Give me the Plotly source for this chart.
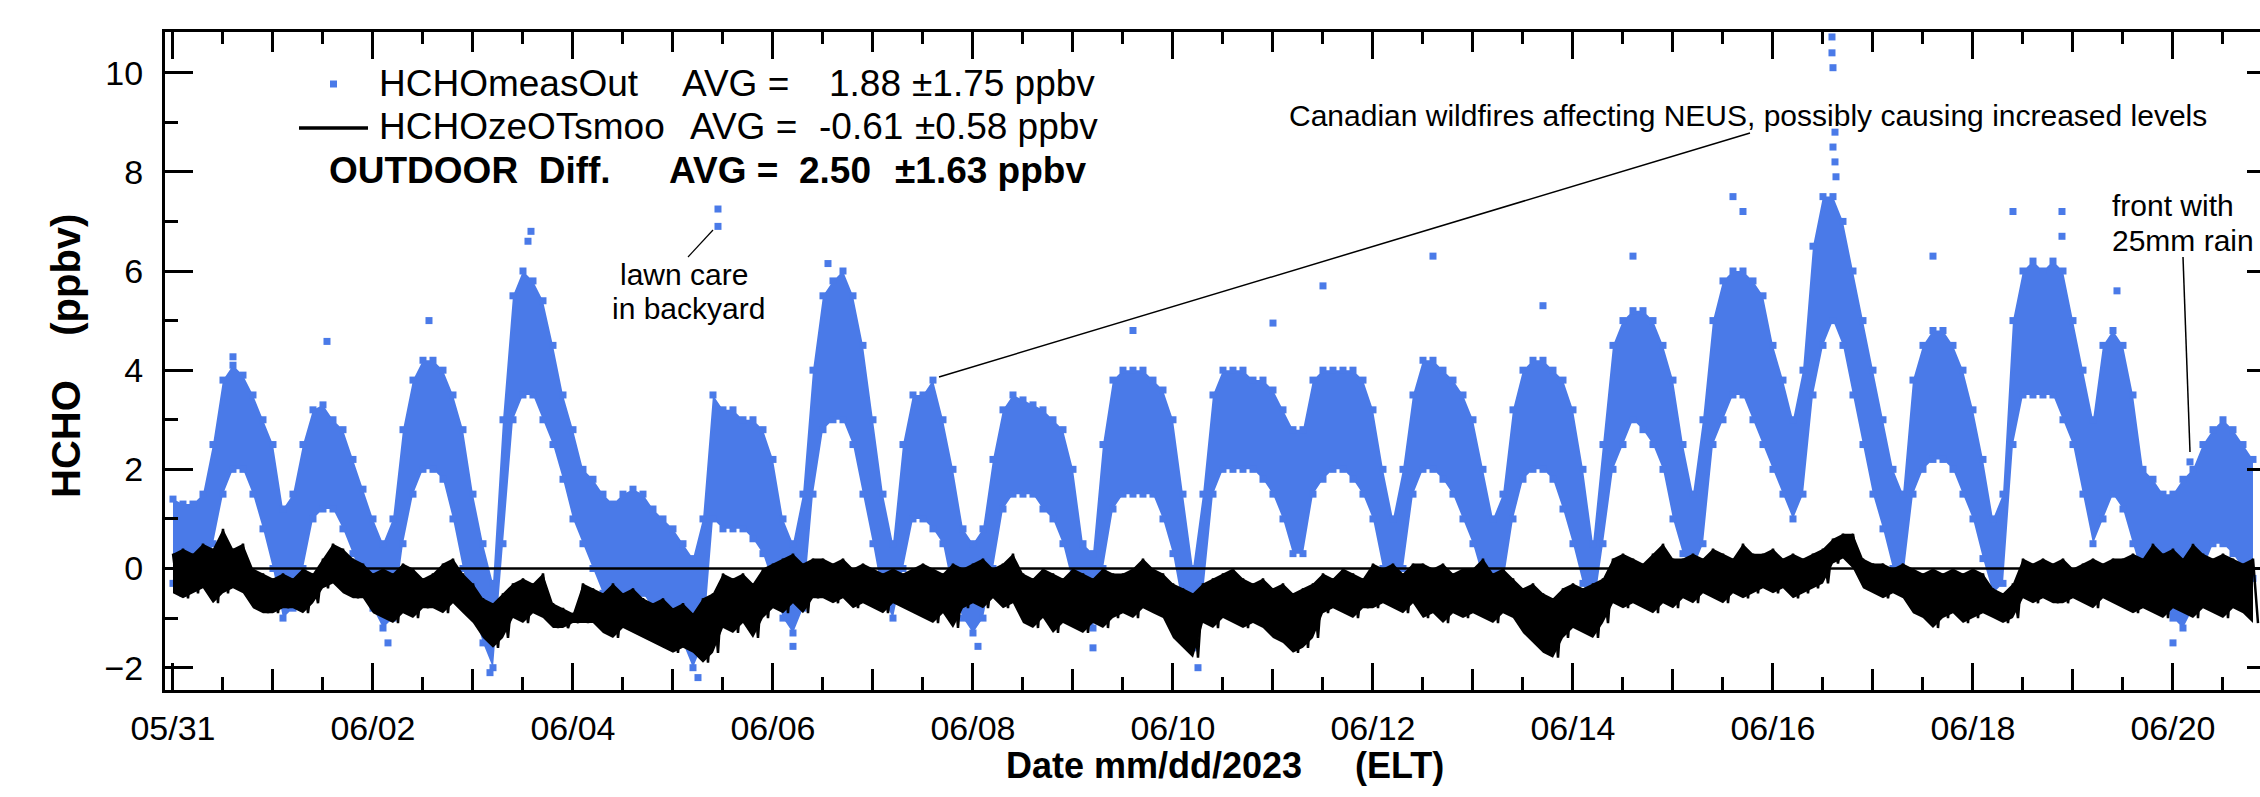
import numpy as np
import pandas as pd
import plotly.graph_objects as go

# ---------------- data ----------------
start = pd.Timestamp("2023-05-31 00:00")
step_days = 0.1  # readings every 0.1 day (2.4 h)

# HCHOmeasOut: lower / upper edge of the scatter band, ppbv
blue_lo = [-0.3,-0.5,-0.4,-0.2,0.5,1.5,2.0,2.0,1.5,0.8,
           0.0,-1.0,-0.8,0.0,1.0,1.2,1.2,0.8,0.3,-0.3,
           -0.8,-1.2,-1.0,0.5,1.5,2.0,2.0,1.8,1.0,0.0,
           -0.8,-1.5,-2.0,0.5,3.0,3.5,3.5,3.0,2.5,1.8,
           1.0,0.5,0.0,-0.5,-0.8,-0.6,-0.6,-0.5,-0.8,-1.0,
           -1.2,-1.5,-2.0,-1.5,1.0,0.8,0.8,0.8,0.6,0.3,
           -0.3,-1.0,-1.3,-0.8,1.5,2.8,3.0,3.0,2.5,1.5,
           0.5,-0.6,-1.0,0.0,1.0,1.0,0.8,0.5,-0.5,-1.0,
           -1.3,-1.0,0.0,1.2,1.5,1.5,1.5,1.2,1.0,0.5,
           -0.3,-1.0,-1.2,0.0,1.2,1.5,1.5,1.5,1.5,1.0,
           0.3,-0.8,-1.6,-0.5,1.5,2.0,2.0,2.0,2.0,1.8,
           1.5,1.0,0.3,0.3,1.5,1.8,2.0,2.0,1.8,1.5,
           1.0,0.0,-0.4,0.0,1.5,2.0,2.0,1.8,1.5,1.0,
           0.5,-0.2,-0.5,-0.3,1.0,1.8,2.0,2.0,1.8,1.2,
           0.5,-0.3,-0.9,0.5,2.0,2.5,3.0,2.8,2.5,2.0,
           1.0,0.3,0.0,0.5,2.5,3.0,3.5,3.5,3.0,2.5,
           2.0,1.5,1.0,1.5,3.5,4.5,5.0,4.5,3.5,2.5,
           1.5,0.8,0.0,-0.2,1.5,2.0,2.2,2.2,2.0,1.5,
           1.0,0.2,-0.5,-0.3,2.5,3.5,3.5,3.5,3.5,3.0,
           2.5,1.5,0.5,1.0,1.5,1.2,0.5,-0.2,-0.5,-0.8,
           -1.0,-1.2,-0.8,0.0,0.5,0.5,0.3,0.0,-0.2]
blue_hi = [1.4,1.3,1.3,1.5,2.5,3.8,4.1,3.9,3.5,3.0,
           2.5,1.2,1.5,2.5,3.2,3.3,3.0,2.8,2.2,1.6,
           1.0,0.5,1.0,2.8,3.8,4.2,4.2,4.0,3.5,2.8,
           1.5,0.5,-0.3,3.0,5.5,6.0,5.8,5.4,4.5,3.5,
           2.8,2.0,1.8,1.5,1.3,1.5,1.6,1.5,1.2,1.0,
           0.8,0.5,0.2,1.0,3.5,3.2,3.2,3.0,3.0,2.8,
           2.2,1.0,0.5,1.5,4.0,5.5,5.8,6.0,5.5,4.5,
           3.0,1.5,0.5,2.5,3.5,3.5,3.8,3.0,2.0,0.8,
           0.5,0.8,2.2,3.2,3.5,3.4,3.3,3.2,3.0,2.8,
           2.0,0.5,0.3,2.5,3.8,4.0,4.0,4.0,3.8,3.6,
           3.0,1.5,0.0,1.5,3.5,4.0,4.0,4.0,3.8,3.8,
           3.6,3.2,2.8,2.8,3.8,4.0,4.0,4.0,4.0,3.8,
           3.2,2.0,1.0,2.0,3.5,4.2,4.2,4.0,3.8,3.5,
           3.0,2.0,1.0,1.5,3.2,4.0,4.2,4.2,4.0,3.8,
           3.2,2.0,0.5,2.5,4.5,5.0,5.2,5.2,5.0,4.5,
           3.8,2.5,1.5,3.0,5.0,5.8,6.0,6.0,5.8,5.5,
           4.5,3.8,3.0,4.0,6.5,7.5,7.5,7.0,6.0,5.0,
           4.0,3.0,2.0,1.5,3.8,4.5,4.8,4.8,4.5,4.0,
           3.2,2.2,1.0,1.5,5.0,6.0,6.2,6.0,6.2,6.0,
           5.0,4.0,3.0,4.5,4.8,4.5,3.5,2.0,1.8,1.5,
           1.5,1.8,2.0,2.5,2.8,3.0,2.8,2.5,2.2]

# isolated HCHOmeasOut points (day offset from 05/31 00:00, ppbv)
outlier_day = [0.60, 1.54, 2.56, 3.55, 3.58, 5.45, 5.45, 6.55, 9.60, 11.00,
               11.50, 12.60, 13.70, 14.60, 15.60, 15.70, 16.59, 16.59, 16.60,
               16.62, 16.60, 16.62, 16.63, 17.60, 18.40, 18.89, 18.89, 19.44,
               20.17, 2.15, 3.17, 5.25, 6.20, 8.05, 9.20, 10.25, 20.00]
outlier_val = [4.27, 4.58, 5.00, 6.60, 6.80, 7.25, 6.90, 6.15, 4.80, 4.95,
               5.70, 6.30, 5.30, 6.30, 7.50, 7.20, 10.72, 10.40, 10.10,
               8.80, 8.50, 8.20, 7.90, 6.30, 7.20, 7.20, 6.70, 5.60,
               2.15, -1.50, -2.10, -2.20, -1.57, -1.57, -1.60, -2.00, -1.50]

# HCHOzeOTsmoo: upper / lower edge of the jagged black trace, ppbv
black_hi = [0.3,0.4,0.3,0.5,0.4,0.8,0.4,0.5,
            0.0,-0.1,-0.2,-0.1,-0.2,0.0,-0.1,
            0.2,0.5,0.4,0.2,0.1,
            -0.1,0.0,-0.1,0.1,0.0,-0.2,
            -0.1,0.1,0.2,-0.1,-0.3,
            -0.6,-0.7,-0.5,
            -0.3,-0.2,-0.3,-0.1,
            -0.7,-0.8,-0.9,-0.3,
            -0.4,-0.5,-0.3,-0.5,-0.4,-0.6,
            -0.7,-0.6,-0.8,-0.7,-0.9,
            -0.6,-0.5,
            -0.1,-0.2,-0.1,-0.3,0.0,
            0.1,0.2,0.3,0.1,0.2,
            0.2,0.1,0.2,0.0,0.1,
            0.0,-0.1,0.0,-0.1,0.0,
            0.1,0.0,-0.1,0.1,0.0,
            0.1,0.2,0.0,0.1,0.3,
            -0.1,-0.2,0.0,-0.1,-0.2,
            0.0,-0.1,-0.2,0.0,-0.1,
            -0.1,0.0,0.2,0.0,-0.1,
            -0.3,-0.4,-0.5,
            -0.3,-0.2,-0.1,0.0,-0.2,-0.3,-0.2,
            -0.4,-0.3,-0.5,-0.4,-0.3,
            -0.1,-0.2,0.0,-0.1,-0.2,
            0.1,0.0,0.1,-0.1,0.1,
            0.1,0.0,0.1,-0.1,0.0,
            0.0,0.2,-0.1,0.0,-0.2,
            -0.4,-0.3,-0.5,-0.6,-0.4,
            -0.3,-0.4,-0.3,-0.2,
            0.2,0.3,0.2,0.1,0.3,0.5,0.2,
            0.2,0.3,0.2,0.4,0.3,0.2,0.5,0.3,
            0.3,0.4,0.2,0.3,0.2,0.3,0.4,
            0.6,0.7,0.7,
            0.2,0.1,0.1,0.0,0.1,
            0.0,-0.1,0.0,-0.1,0.0,-0.1,0.0,-0.1,
            -0.4,-0.5,-0.3,
            0.2,0.1,0.2,0.1,0.2,0.0,0.1,0.2,0.1,0.2,
            0.2,0.3,0.2,0.5,0.3,0.4,0.2,0.5,0.3,0.2,0.3,0.2,0.1,0.2]
black_lo = [-0.5,-0.6,-0.5,-0.4,-0.7,-0.5,-0.4,-0.5,
            -0.8,-0.9,-0.9,-0.8,-0.8,-0.9,-0.7,
            -0.4,-0.3,-0.5,-0.6,-0.6,
            -0.9,-1.0,-1.1,-0.9,-1.0,-0.8,
            -0.8,-0.9,-0.7,-0.9,-1.1,
            -1.4,-1.6,-1.4,
            -1.0,-1.1,-0.9,-1.0,
            -1.2,-1.2,-1.1,-1.1,
            -1.1,-1.3,-1.4,-1.2,-1.3,-1.4,
            -1.5,-1.6,-1.7,-1.6,-1.7,
            -1.9,-1.7,
            -1.2,-1.3,-1.1,-1.4,-1.0,
            -0.8,-0.9,-0.7,-0.9,-0.6,
            -0.6,-0.7,-0.6,-0.8,-0.7,
            -0.8,-0.9,-0.7,-0.8,-0.9,
            -1.0,-1.1,-0.9,-1.2,-0.8,
            -0.7,-0.8,-0.6,-0.8,-0.7,
            -1.1,-1.2,-1.0,-1.3,-1.1,
            -1.2,-1.3,-1.1,-1.2,-1.0,
            -0.9,-1.0,-0.8,-0.9,-1.0,
            -1.4,-1.6,-1.8,
            -1.1,-1.2,-1.0,-1.1,-1.2,-1.1,-1.2,
            -1.4,-1.5,-1.7,-1.6,-1.4,
            -0.9,-0.8,-0.9,-1.0,-0.8,
            -0.8,-0.7,-0.8,-0.9,-0.7,
            -1.0,-0.9,-1.1,-0.9,-1.0,
            -0.9,-1.0,-1.1,-0.9,-1.0,
            -1.3,-1.5,-1.7,-1.8,-1.4,
            -1.2,-1.3,-1.4,-1.1,
            -0.7,-0.8,-0.7,-0.8,-0.9,-0.7,-0.8,
            -0.6,-0.7,-0.5,-0.6,-0.7,-0.5,-0.6,-0.5,
            -0.4,-0.5,-0.4,-0.6,-0.5,-0.4,-0.3,
            0.1,0.2,0.0,
            -0.4,-0.5,-0.6,-0.5,-0.6,
            -0.9,-1.0,-1.2,-1.0,-0.9,-1.1,-1.0,-0.9,
            -1.0,-1.1,-1.0,
            -0.6,-0.7,-0.6,-0.7,-0.7,-0.6,-0.7,-0.8,-0.6,-0.7,
            -0.8,-0.9,-0.8,-0.9,-1.0,-0.8,-0.9,-1.0,-0.8,-0.9,-1.0,-0.8,-0.9,-1.1]

legend_rows = [
    ("HCHOmeasOut", "AVG =", "1.88", "\u00b11.75 ppbv"),
    ("HCHOzeOTsmoo", "AVG =", "-0.61", "\u00b10.58 ppbv"),
    ("OUTDOOR\u00a0\u00a0Diff.", "AVG =", "2.50", "\u00b11.63 ppbv"),
]

# ---------------- build ----------------
BLUE = "#4a7ae8"
FONT = "Arial, Liberation Sans, sans-serif"
W, H = 2260, 797
PL, PR, PT, PB = 165, 2260, 32, 690

def xp(px):
    return (px - PL) / (PR - PL)

def yp(py):
    return (PB - py) / (PB - PT)

n = len(blue_lo)
t = start + pd.to_timedelta(np.arange(n) * step_days, unit="D")
t_half = t + pd.to_timedelta(step_days / 2, unit="D")
bx = []
by = []
for a, b, h, l in zip(t, t_half, black_hi, black_lo):
    bx += [a, b]
    by += [h, l]
ox = start + pd.to_timedelta(outlier_day, unit="D")

fig = go.Figure()
fig.add_trace(go.Scatter(x=t, y=blue_lo, mode="lines", line=dict(width=0, color=BLUE),
                         hoverinfo="skip", showlegend=False))
fig.add_trace(go.Scatter(x=t, y=blue_hi, mode="lines", line=dict(width=0, color=BLUE),
                         fill="tonexty", fillcolor=BLUE, showlegend=False))
fig.add_trace(go.Scatter(x=list(t) + list(t), y=blue_lo + blue_hi, mode="markers",
                         marker=dict(symbol="square", size=7, color=BLUE), showlegend=False))
fig.add_trace(go.Scatter(x=ox, y=outlier_val, mode="markers",
                         marker=dict(symbol="square", size=7, color=BLUE), showlegend=False))
fig.add_trace(go.Scatter(x=t, y=black_lo, mode="lines", line=dict(width=0, color="black"),
                         hoverinfo="skip", showlegend=False))
fig.add_trace(go.Scatter(x=t, y=black_hi, mode="lines", line=dict(width=0, color="black"),
                         fill="tonexty", fillcolor="black", showlegend=False))
fig.add_trace(go.Scatter(x=bx, y=by, mode="lines", line=dict(color="black", width=2.5),
                         showlegend=False))
# empty traces so overlay axes are drawn
for xa, ya in [("x2", "y"), ("x3", "y"), ("x4", "y"), ("x", "y2")]:
    fig.add_trace(go.Scatter(x=[], y=[], xaxis=xa, yaxis=ya, showlegend=False))

xr = ["2023-05-30 22:05", "2023-06-20 20:53"]
yr = [-2.45, 10.82]
tickfont = dict(family=FONT, size=34, color="black")
common_x = dict(type="date", range=xr, showgrid=False, zeroline=False,
                ticks="inside", tickcolor="black", tickwidth=3)
fig.update_layout(
    width=W, height=H, paper_bgcolor="white", plot_bgcolor="white",
    margin=dict(l=PL, r=W - PR, t=PT, b=H - PB),
    showlegend=False,
    xaxis=dict(**common_x, tick0="2023-05-31", dtick=2 * 86400000, ticklen=27,
               tickformat="%m/%d", tickfont=tickfont, ticklabelstandoff=6,
               showline=True, linecolor="black", linewidth=3,
               minor=dict(dtick=43200000, ticklen=13, tickwidth=3, ticks="inside",
                          tickcolor="black", showgrid=False)),
    xaxis2=dict(**common_x, overlaying="x", anchor="y", side="bottom",
                tick0="2023-05-31", dtick=86400000, ticklen=21,
                showticklabels=False, showline=False),
    xaxis3=dict(**common_x, overlaying="x", anchor="y", side="top",
                tick0="2023-05-31", dtick=2 * 86400000, ticklen=27,
                showticklabels=False, showline=True, linecolor="black", linewidth=3,
                minor=dict(dtick=43200000, ticklen=12, tickwidth=3, ticks="inside",
                           tickcolor="black", showgrid=False)),
    xaxis4=dict(**common_x, overlaying="x", anchor="y", side="top",
                tick0="2023-05-31", dtick=86400000, ticklen=20,
                showticklabels=False, showline=False),
    yaxis=dict(range=yr, tick0=0, dtick=2, ticks="inside", ticklen=28, tickwidth=3,
               tickcolor="black", showgrid=False, zeroline=False, tickfont=tickfont,
               ticklabelstandoff=12, showline=True, linecolor="black", linewidth=3,
               minor=dict(dtick=1, ticklen=13, tickwidth=3, ticks="inside",
                          tickcolor="black", showgrid=False)),
    yaxis2=dict(range=yr, overlaying="y", side="right", anchor="x", tick0=0, dtick=2,
                ticks="inside", ticklen=13, tickwidth=3, tickcolor="black",
                showgrid=False, zeroline=False, showticklabels=False, showline=False),
)

shapes = [
    dict(type="line", xref="paper", x0=0, x1=1, yref="y", y0=0, y1=0,
         line=dict(color="black", width=2.5), layer="above"),
    # legend symbols
    dict(type="rect", xref="paper", yref="paper", x0=xp(330), x1=xp(337),
         y0=yp(87.5), y1=yp(80.5), fillcolor=BLUE, line=dict(width=0)),
    dict(type="line", xref="paper", yref="paper", x0=xp(299), x1=xp(368),
         y0=yp(128), y1=yp(128), line=dict(color="black", width=3.5)),
    # annotation leader lines
    dict(type="line", xref="paper", yref="paper", x0=xp(688), y0=yp(257),
         x1=xp(713), y1=yp(230), line=dict(color="black", width=1.2)),
    dict(type="line", xref="paper", yref="paper", x0=xp(939), y0=yp(377),
         x1=xp(1750), y1=yp(133), line=dict(color="black", width=1.5)),
    dict(type="line", xref="paper", yref="paper", x0=xp(2183), y0=yp(257),
         x1=xp(2190), y1=yp(452), line=dict(color="black", width=1.5)),
]
fig.update_layout(shapes=shapes)

ann = []
def text(s, x, y, size, bold=False, anchor="left", angle=0):
    ann.append(dict(text=f"<b>{s}</b>" if bold else s, xref="paper", yref="paper",
                    x=xp(x), y=yp(y), xanchor=anchor, yanchor="middle",
                    showarrow=False, textangle=angle,
                    font=dict(family=FONT, size=size, color="black")))

row_y = [83, 126, 170]
row_x = [(377, 680, 827, 910), (377, 688, 817, 913), (327, 667, 797, 893)]
for i, (row, xs, yy) in enumerate(zip(legend_rows, row_x, row_y)):
    for s, xx in zip(row, xs):
        text(s, xx, yy, 37, bold=(i == 2))

text("lawn care", 684, 274, 30, anchor="center")
text("in backyard", 688, 308, 30, anchor="center")
text("Canadian wildfires affecting NEUS, possibly causing increased levels", 1287, 115, 30)
text("front with", 2110, 205, 30)
text("25mm rain", 2110, 241, 30)
text("Date mm/dd/2023", 1004, 765, 36, bold=True)
text("(ELT)", 1353, 765, 36, bold=True)
text("HCHO\u00a0\u00a0\u00a0\u00a0(ppbv)", 66, 356, 40, bold=True, anchor="center", angle=-90)
fig.update_layout(annotations=ann)

fig.write_html("out.html", config={"displayModeBar": False},
               post_script="document.body.style.margin='0';document.body.style.overflow='hidden';")
